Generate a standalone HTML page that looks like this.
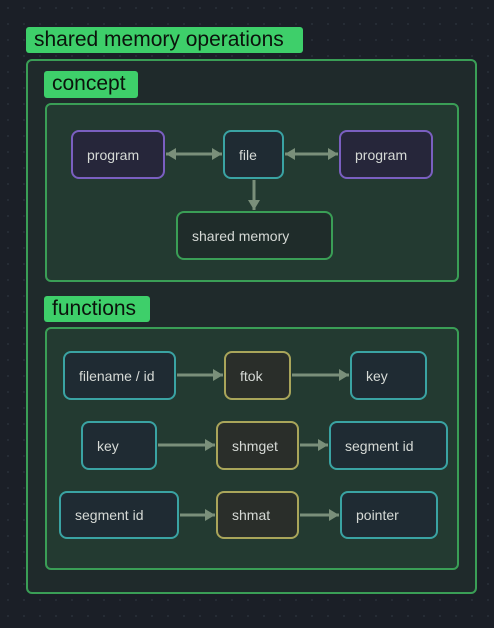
<!DOCTYPE html>
<html><head><style>
*{margin:0;padding:0;box-sizing:border-box}
body{width:494px;height:628px;background:#1b1f27;background-image:radial-gradient(#2a303a 1px,transparent 1px);background-size:16px 16px;position:relative;overflow:hidden;font-family:"Liberation Sans",sans-serif}
.a{position:absolute}
.lbl{background:#3ecf6a;color:#0b130c;font-size:21px;line-height:26px;padding-left:8px;border-radius:3px}
.grp{border:2px solid #3a9e56;border-radius:6px}
.n{border:2px solid;border-radius:8px;color:#d6dad6;font-size:14px;display:flex;align-items:center;padding-left:14px}
.p{border-color:#7a5fc0;background:#26263a}
.t{border-color:#3aa3a3;background:#1f2b33}
.y{border-color:#a9a55a;background:#2a2e2a}
.g{border-color:#3a9e56;background:#1f2c2a}
</style></head><body>
<div class="a lbl" style="left:26px;top:27px;width:277px;height:26px">shared memory operations</div>
<div class="a grp" style="left:26px;top:59px;width:451px;height:535px;background:#1f2a2b"></div>
<div class="a lbl" style="left:44px;top:71px;width:94px;height:27px">concept</div>
<div class="a grp" style="left:45px;top:103px;width:414px;height:179px;background:#233a31"></div>
<div class="a lbl" style="left:44px;top:296px;width:106px;height:26px">functions</div>
<div class="a grp" style="left:45px;top:327px;width:414px;height:243px;background:#233a31"></div>

<div class="a n p" style="left:71px;top:130px;width:94px;height:49px">program</div>
<div class="a n t" style="left:223px;top:130px;width:61px;height:49px">file</div>
<div class="a n p" style="left:339px;top:130px;width:94px;height:49px">program</div>
<div class="a n g" style="left:176px;top:211px;width:157px;height:49px">shared memory</div>

<div class="a n t" style="left:63px;top:351px;width:113px;height:49px">filename / id</div>
<div class="a n y" style="left:224px;top:351px;width:67px;height:49px">ftok</div>
<div class="a n t" style="left:350px;top:351px;width:77px;height:49px">key</div>
<div class="a n t" style="left:81px;top:421px;width:76px;height:49px">key</div>
<div class="a n y" style="left:216px;top:421px;width:83px;height:49px">shmget</div>
<div class="a n t" style="left:329px;top:421px;width:119px;height:49px">segment id</div>
<div class="a n t" style="left:59px;top:491px;width:120px;height:48px">segment id</div>
<div class="a n y" style="left:216px;top:491px;width:83px;height:48px">shmat</div>
<div class="a n t" style="left:340px;top:491px;width:98px;height:48px">pointer</div>

<svg class="a" style="left:0;top:0" width="494" height="628">
<defs>
<marker id="mm" markerWidth="10" markerHeight="12" refX="10" refY="6" orient="auto-start-reverse" markerUnits="userSpaceOnUse"><path d="M0,0L10,6L0,12z" fill="#7a8f7a"/></marker></defs>
<g stroke="#7a8f7a" stroke-width="3" fill="none">
<path d="M166,154H222" marker-start="url(#mm)" marker-end="url(#mm)"/>
<path d="M285,154H338" marker-start="url(#mm)" marker-end="url(#mm)"/>
<path d="M254,180V210" marker-end="url(#mm)"/>
<path d="M177,375H223" marker-end="url(#mm)"/>
<path d="M292,375H349" marker-end="url(#mm)"/>
<path d="M158,445H215" marker-end="url(#mm)"/>
<path d="M300,445H328" marker-end="url(#mm)"/>
<path d="M180,515H215" marker-end="url(#mm)"/>
<path d="M300,515H339" marker-end="url(#mm)"/>
</g></svg>
</body></html>
